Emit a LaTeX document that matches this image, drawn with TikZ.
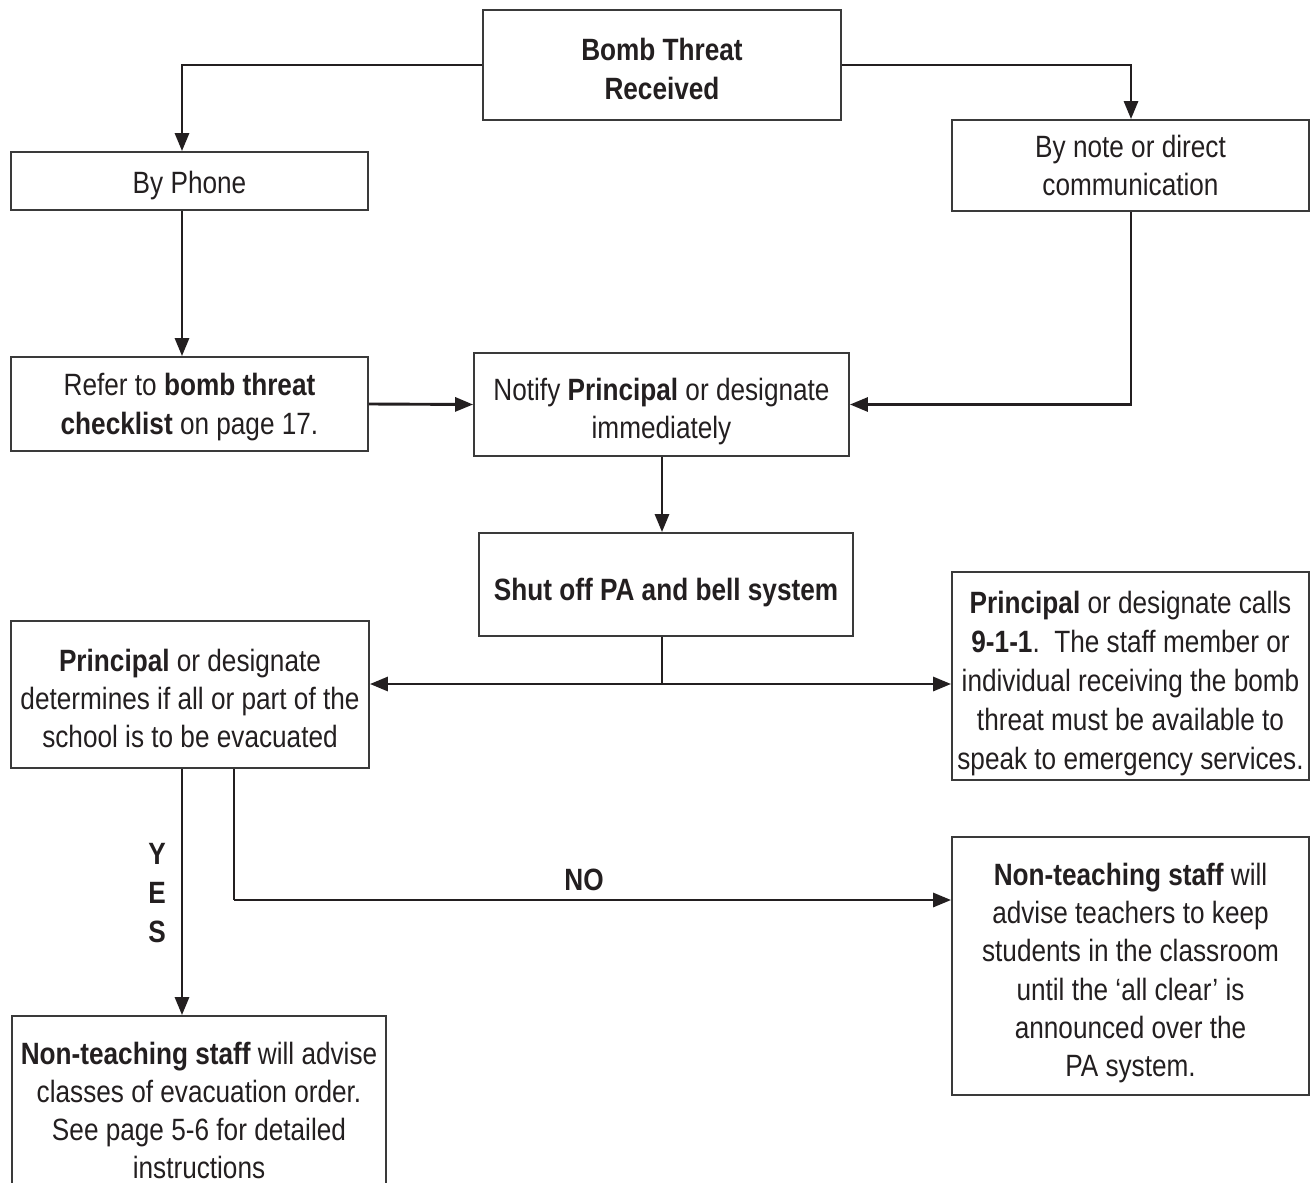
\documentclass[tikz,border=0pt]{standalone}
\usepackage{fontspec}
\setmainfont{Liberation Sans}[FakeStretch=0.85]
\usetikzlibrary{arrows.meta}
\definecolor{ink}{HTML}{231F20}
\definecolor{boxgray}{HTML}{3A3A3A}
\newcommand{\flowfont}{\fontsize{15.4}{19.1}\selectfont}
\begin{document}
\begin{tikzpicture}[x=0.5pt,y=-0.5pt,
  frame/.style={draw=boxgray, line width=0.9pt, rectangle, inner sep=0pt},
  txt/.style={align=center, inner sep=0pt, text=ink, font=\flowfont},
  lbl/.style={align=center, inner sep=0pt, text=ink, font=\flowfont\bfseries},
  conn/.style={line width=1.45pt, draw=ink},
  arr/.style={conn, -{Triangle[length=9pt,width=7pt]}}]
\useasboundingbox (0,0) rectangle (1312,1183);
\clip (0,0) rectangle (1312,1183);
\fill[white] (0,0) rectangle (1312,1183);

% box frames
\node[frame, minimum width=179pt, minimum height=55pt] (bomb) at (662,65) {};
\node[frame, minimum width=178.5pt, minimum height=29pt] (phone) at (189.5,181) {};
\node[frame, minimum width=178.5pt, minimum height=45.5pt] (note) at (1130.5,165.5) {};
\node[frame, minimum width=178.5pt, minimum height=47pt] (refer) at (189.5,404) {};
\node[frame, minimum width=187.5pt, minimum height=51.5pt] (notify) at (661.5,404.5) {};
\node[frame, minimum width=187pt, minimum height=51.5pt] (shut) at (666,584.5) {};
\node[frame, minimum width=179pt, minimum height=73.5pt] (decide) at (190,694.5) {};
\node[frame, minimum width=178.5pt, minimum height=104pt] (call) at (1130.5,676) {};
\node[frame, minimum width=178.5pt, minimum height=129pt] (stay) at (1130.5,966) {};
\node[frame, minimum width=187pt, minimum height=94.5pt] (evac) at (199,1110.5) {};

% box texts
\node[txt] (bombtxt) at ([yshift=-2pt]bomb.center) {\textbf{Bomb Threat}\\\textbf{Received}};
\node[txt] (phonetxt) at ([yshift=-2.5pt]phone.center) {By Phone};
\node[txt] (notetxt) at (note.center) {By note or direct\\communication};
\node[txt] (refertxt) at ([yshift=-1.5pt]refer.center) {Refer to \textbf{bomb threat}\\\textbf{checklist} on page 17.};
\node[txt] (notifytxt) at ([yshift=-3.5pt]notify.center) {Notify \textbf{Principal} or designate\\immediately};
\node[txt] (shuttxt) at ([yshift=-4pt]shut.center) {\textbf{Shut off PA and bell system}};
\node[txt] (decidetxt) at ([yshift=-2pt]decide.center) {\textbf{Principal} or designate\\determines if all or part of the\\school is to be evacuated};
\node[txt, font=\fontsize{15.4}{19.5}\selectfont] (calltxt) at ([yshift=-4pt]call.center) {\textbf{Principal} or designate calls\\\textbf{9-1-1}.\ \ The staff member or\\individual receiving the bomb\\threat must be available to\\speak to emergency services.};
\node[txt] (staytxt) at ([yshift=-3.5pt]stay.center) {\textbf{Non-teaching staff} will\\advise teachers to keep\\students in the classroom\\until the `all clear' is\\announced over the\\PA system.};
\node[txt] (evactxt) at (evac.center) {\textbf{Non-teaching staff} will advise\\classes of evacuation order.\\See page 5-6 for detailed\\instructions};

% labels
\node[lbl] (yes) at (157,893) {Y\\[0.3pt]E\\[0.3pt]S};
\node[lbl] (no) at (584,880) {NO};

% helper coordinates
\coordinate (xl) at (182,0);
\coordinate (xn) at (234,0);
\coordinate (xm) at (662,0);
\coordinate (xr) at (1131,0);
\coordinate (split) at (662,684);
\coordinate (nobend) at (234,900);

% connectors
\draw[arr] (bomb.west) -| (xl |- phone.north);
\draw[arr] (bomb.east) -| (xr |- note.north);
\draw[arr] (xl |- phone.south) -- (xl |- refer.north);
\draw[arr] (refer.east) -- (notify.west);
\draw[arr] (xr |- note.south) |- (notify.east);
\draw[arr] (xm |- notify.south) -- (xm |- shut.north);
\draw[conn] (xm |- shut.south) -- (split);
\draw[arr] (split) -- (split -| decide.east);
\draw[arr] (split) -- (split -| call.west);
\draw[arr] (xl |- decide.south) -- (xl |- evac.north);
\draw[conn] (xn |- decide.south) -- (nobend);
\draw[arr] (nobend) -- (nobend -| stay.west);
\end{tikzpicture}
\end{document}
